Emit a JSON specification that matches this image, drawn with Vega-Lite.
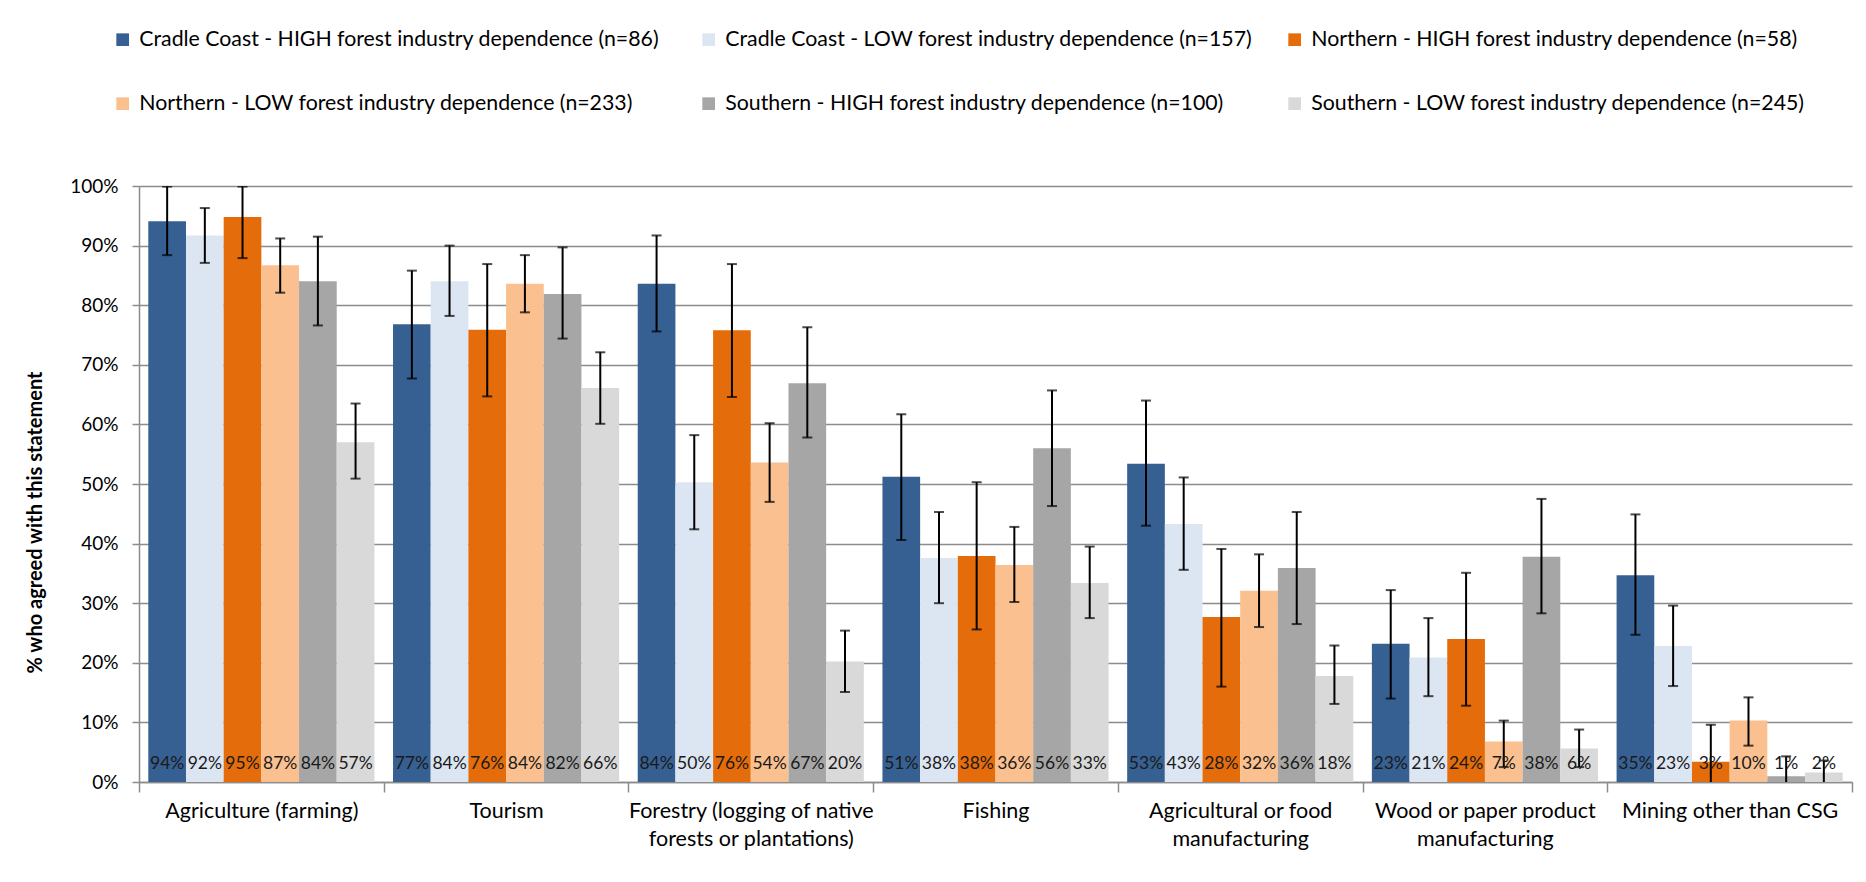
{
  "$schema": "https://vega.github.io/schema/vega-lite/v6.json",
  "autosize": "none",
  "width": 1713,
  "height": 596,
  "padding": {"left": 139, "top": 186, "right": 14, "bottom": 100},
  "background": "white",
  "config": {
    "view": {"stroke": null},
    "font": "Lato",
    "axis": {"labelFont": "Lato", "titleFont": "Lato", "labelColor": "#000000", "titleColor": "#000000"}
  },
  "datasets": {
    "main": [
      {"category": "Agriculture (farming)", "group": "Cradle Coast - HIGH forest industry dependence (n=86)", "value": 0.941, "lo": 0.884, "hi": 0.999},
      {"category": "Agriculture (farming)", "group": "Cradle Coast - LOW forest industry dependence (n=157)", "value": 0.917, "lo": 0.871, "hi": 0.963},
      {"category": "Agriculture (farming)", "group": "Northern - HIGH forest industry dependence (n=58)", "value": 0.948, "lo": 0.879, "hi": 0.999},
      {"category": "Agriculture (farming)", "group": "Northern - LOW forest industry dependence (n=233)", "value": 0.867, "lo": 0.821, "hi": 0.912},
      {"category": "Agriculture (farming)", "group": "Southern - HIGH forest industry dependence (n=100)", "value": 0.840, "lo": 0.766, "hi": 0.915},
      {"category": "Agriculture (farming)", "group": "Southern - LOW forest industry dependence (n=245)", "value": 0.570, "lo": 0.509, "hi": 0.635},
      {"category": "Tourism", "group": "Cradle Coast - HIGH forest industry dependence (n=86)", "value": 0.768, "lo": 0.677, "hi": 0.858},
      {"category": "Tourism", "group": "Cradle Coast - LOW forest industry dependence (n=157)", "value": 0.840, "lo": 0.782, "hi": 0.900},
      {"category": "Tourism", "group": "Northern - HIGH forest industry dependence (n=58)", "value": 0.759, "lo": 0.647, "hi": 0.869},
      {"category": "Tourism", "group": "Northern - LOW forest industry dependence (n=233)", "value": 0.836, "lo": 0.788, "hi": 0.884},
      {"category": "Tourism", "group": "Southern - HIGH forest industry dependence (n=100)", "value": 0.819, "lo": 0.744, "hi": 0.897},
      {"category": "Tourism", "group": "Southern - LOW forest industry dependence (n=245)", "value": 0.661, "lo": 0.601, "hi": 0.721},
      {"category": "Forestry (logging of native forests or plantations)", "group": "Cradle Coast - HIGH forest industry dependence (n=86)", "value": 0.836, "lo": 0.756, "hi": 0.917},
      {"category": "Forestry (logging of native forests or plantations)", "group": "Cradle Coast - LOW forest industry dependence (n=157)", "value": 0.503, "lo": 0.424, "hi": 0.582},
      {"category": "Forestry (logging of native forests or plantations)", "group": "Northern - HIGH forest industry dependence (n=58)", "value": 0.758, "lo": 0.646, "hi": 0.869},
      {"category": "Forestry (logging of native forests or plantations)", "group": "Northern - LOW forest industry dependence (n=233)", "value": 0.536, "lo": 0.470, "hi": 0.602},
      {"category": "Forestry (logging of native forests or plantations)", "group": "Southern - HIGH forest industry dependence (n=100)", "value": 0.669, "lo": 0.578, "hi": 0.763},
      {"category": "Forestry (logging of native forests or plantations)", "group": "Southern - LOW forest industry dependence (n=245)", "value": 0.202, "lo": 0.151, "hi": 0.254},
      {"category": "Fishing", "group": "Cradle Coast - HIGH forest industry dependence (n=86)", "value": 0.512, "lo": 0.406, "hi": 0.617},
      {"category": "Fishing", "group": "Cradle Coast - LOW forest industry dependence (n=157)", "value": 0.376, "lo": 0.300, "hi": 0.453},
      {"category": "Fishing", "group": "Northern - HIGH forest industry dependence (n=58)", "value": 0.379, "lo": 0.256, "hi": 0.503},
      {"category": "Fishing", "group": "Northern - LOW forest industry dependence (n=233)", "value": 0.364, "lo": 0.302, "hi": 0.428},
      {"category": "Fishing", "group": "Southern - HIGH forest industry dependence (n=100)", "value": 0.560, "lo": 0.463, "hi": 0.657},
      {"category": "Fishing", "group": "Southern - LOW forest industry dependence (n=245)", "value": 0.334, "lo": 0.275, "hi": 0.395},
      {"category": "Agricultural or food manufacturing", "group": "Cradle Coast - HIGH forest industry dependence (n=86)", "value": 0.534, "lo": 0.430, "hi": 0.640},
      {"category": "Agricultural or food manufacturing", "group": "Cradle Coast - LOW forest industry dependence (n=157)", "value": 0.433, "lo": 0.356, "hi": 0.511},
      {"category": "Agricultural or food manufacturing", "group": "Northern - HIGH forest industry dependence (n=58)", "value": 0.277, "lo": 0.160, "hi": 0.391},
      {"category": "Agricultural or food manufacturing", "group": "Northern - LOW forest industry dependence (n=233)", "value": 0.321, "lo": 0.260, "hi": 0.382},
      {"category": "Agricultural or food manufacturing", "group": "Southern - HIGH forest industry dependence (n=100)", "value": 0.359, "lo": 0.265, "hi": 0.453},
      {"category": "Agricultural or food manufacturing", "group": "Southern - LOW forest industry dependence (n=245)", "value": 0.178, "lo": 0.131, "hi": 0.229},
      {"category": "Wood or paper product manufacturing", "group": "Cradle Coast - HIGH forest industry dependence (n=86)", "value": 0.232, "lo": 0.140, "hi": 0.322},
      {"category": "Wood or paper product manufacturing", "group": "Cradle Coast - LOW forest industry dependence (n=157)", "value": 0.209, "lo": 0.144, "hi": 0.275},
      {"category": "Wood or paper product manufacturing", "group": "Northern - HIGH forest industry dependence (n=58)", "value": 0.240, "lo": 0.128, "hi": 0.351},
      {"category": "Wood or paper product manufacturing", "group": "Northern - LOW forest industry dependence (n=233)", "value": 0.068, "lo": 0.025, "hi": 0.103},
      {"category": "Wood or paper product manufacturing", "group": "Southern - HIGH forest industry dependence (n=100)", "value": 0.378, "lo": 0.283, "hi": 0.475},
      {"category": "Wood or paper product manufacturing", "group": "Southern - LOW forest industry dependence (n=245)", "value": 0.056, "lo": 0.025, "hi": 0.088},
      {"category": "Mining other than CSG", "group": "Cradle Coast - HIGH forest industry dependence (n=86)", "value": 0.347, "lo": 0.247, "hi": 0.449},
      {"category": "Mining other than CSG", "group": "Cradle Coast - LOW forest industry dependence (n=157)", "value": 0.228, "lo": 0.161, "hi": 0.296},
      {"category": "Mining other than CSG", "group": "Northern - HIGH forest industry dependence (n=58)", "value": 0.034, "lo": -0.028, "hi": 0.096},
      {"category": "Mining other than CSG", "group": "Northern - LOW forest industry dependence (n=233)", "value": 0.103, "lo": 0.061, "hi": 0.142},
      {"category": "Mining other than CSG", "group": "Southern - HIGH forest industry dependence (n=100)", "value": 0.0095, "lo": -0.024, "hi": 0.043},
      {"category": "Mining other than CSG", "group": "Southern - LOW forest industry dependence (n=245)", "value": 0.016, "lo": -0.005, "hi": 0.036}
    ]
  },
  "data": {"name": "main"},
  "encoding": {
    "x": {
      "field": "category",
      "type": "nominal",
      "sort": ["Agriculture (farming)", "Tourism", "Forestry (logging of native forests or plantations)", "Fishing", "Agricultural or food manufacturing", "Wood or paper product manufacturing", "Mining other than CSG"],
      "scale": {"paddingInner": 0, "paddingOuter": 0},
      "axis": {
        "title": null,
        "labelAngle": 0,
        "labelFont": "Lato",
        "labelFontSize": 21.5,
        "labelColor": "#000000",
        "labelLimit": 0,
        "labelPadding": 8,
        "labelLineHeight": 28,
        "labelExpr": "datum.label == 'Forestry (logging of native forests or plantations)' ? ['Forestry (logging of native', 'forests or plantations)'] : datum.label == 'Agricultural or food manufacturing' ? ['Agricultural or food', 'manufacturing'] : datum.label == 'Wood or paper product manufacturing' ? ['Wood or paper product', 'manufacturing'] : datum.label",
        "tickBand": "extent",
        "ticks": true,
        "tickSize": 10,
        "tickColor": "#8c8c8c",
        "tickWidth": 1.5,
        "domainColor": "#8c8c8c",
        "domainWidth": 1.5,
        "grid": false
      }
    },
    "xOffset": {
      "field": "group",
      "type": "nominal",
      "sort": ["Cradle Coast - HIGH forest industry dependence (n=86)", "Cradle Coast - LOW forest industry dependence (n=157)", "Northern - HIGH forest industry dependence (n=58)", "Northern - LOW forest industry dependence (n=233)", "Southern - HIGH forest industry dependence (n=100)", "Southern - LOW forest industry dependence (n=245)"],
      "scale": {"paddingInner": 0, "paddingOuter": 0.247}
    }
  },
  "layer": [
    {
      "mark": {"type": "bar"},
      "encoding": {
        "y": {
          "field": "value",
          "type": "quantitative",
          "scale": {"domain": [0, 1], "nice": false},
          "axis": {
            "title": "% who agreed with this statement",
            "titleFont": "Lato",
            "titleFontSize": 20,
            "titleFontWeight": "bold",
            "titleColor": "#000000",
            "titleAngle": -90,
            "titleX": -104,
            "titleY": 336,
            "titleAlign": "center",
            "titleBaseline": "middle",
            "values": [0, 0.1, 0.2, 0.3, 0.4, 0.5, 0.6, 0.7, 0.8, 0.9, 1],
            "format": ".0%",
            "labelFont": "Lato",
            "labelFontSize": 19,
            "labelColor": "#000000",
            "labelPadding": 14,
            "tickSize": 7,
            "tickColor": "#8c8c8c",
            "tickWidth": 1.5,
            "domainColor": "#8c8c8c",
            "domainWidth": 1.5,
            "grid": true,
            "gridColor": "#8c8c8c",
            "gridWidth": 1.5
          }
        },
        "color": {
          "field": "group",
          "type": "nominal",
          "sort": ["Cradle Coast - HIGH forest industry dependence (n=86)", "Cradle Coast - LOW forest industry dependence (n=157)", "Northern - HIGH forest industry dependence (n=58)", "Northern - LOW forest industry dependence (n=233)", "Southern - HIGH forest industry dependence (n=100)", "Southern - LOW forest industry dependence (n=245)"],
          "scale": {"range": ["#366092", "#dce6f2", "#e46c0a", "#fac090", "#a6a6a6", "#d9d9d9"]},
          "legend": {
            "title": null,
            "orient": "none",
            "legendX": -27,
            "legendY": -157,
            "columns": 3,
            "direction": "horizontal",
            "gridAlign": "all",
            "columnPadding": 31,
            "rowPadding": 42,
            "padding": 0,
            "symbolType": "square",
            "symbolSize": 160,
            "symbolStrokeWidth": 0,
            "labelFont": "Lato",
            "labelFontSize": 21.3,
            "labelColor": "#000000",
            "labelLimit": 0,
            "labelOffset": 6
          }
        }
      }
    },
    {
      "mark": {"type": "rule", "color": "#000000", "strokeWidth": 2, "clip": true},
      "encoding": {
        "y": {"field": "lo", "type": "quantitative"},
        "y2": {"field": "hi"}
      }
    },
    {
      "mark": {"type": "tick", "color": "#000000", "thickness": 2, "clip": true},
      "encoding": {
        "y": {"field": "hi", "type": "quantitative"},
        "size": {"value": 10}
      }
    },
    {
      "mark": {"type": "tick", "color": "#000000", "thickness": 2, "clip": true},
      "encoding": {
        "y": {"field": "lo", "type": "quantitative"},
        "size": {"value": 10}
      }
    },
    {
      "mark": {"type": "text", "font": "Lato", "fontSize": 17.5, "color": "#1a1a1a", "baseline": "middle", "dy": -18},
      "encoding": {
        "y": {"datum": 0},
        "text": {"field": "value", "type": "quantitative", "format": ".0%"}
      }
    }
  ]
}
